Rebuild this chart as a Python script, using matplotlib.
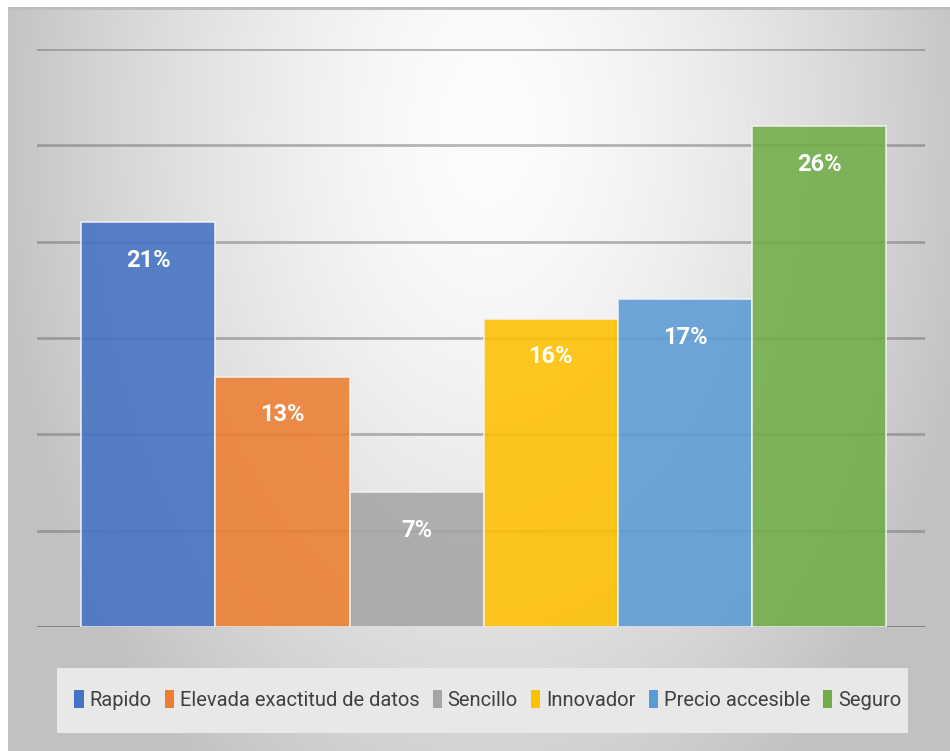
import numpy as np
import matplotlib
matplotlib.use("Agg")
import matplotlib.pyplot as plt
from matplotlib.patches import Patch, Rectangle

# survey answers: share of responses per attribute
labels = ["Rapido", "Elevada exactitud de datos", "Sencillo", "Innovador",
          "Precio accesible", "Seguro"]
values = [21, 13, 7, 16, 17, 26]
colors = ["#4472C4", "#ED7D31", "#A5A5A5", "#FFC000", "#5B9BD5", "#70AD47"]
yticks = [0, 5, 10, 15, 20, 25, 30]

FONT = ["Roboto", "DejaVu Sans"]
plt.rcParams["font.family"] = FONT

W, H = 950, 751
fig = plt.figure(figsize=(W / 100, H / 100), dpi=100, facecolor="white")

# grey backdrop, light down the middle and darker toward the edges
bw, bh = 942, 744
yy, xx = np.mgrid[0:bh, 0:bw]
d = np.sqrt(((xx - 480) / 500.0) ** 2 + ((yy - 120) / 800.0) ** 2)
shade = 253 - 60 * np.clip(d, 0, 1.0) ** 1.5
shade[:3, :] = 190
bg = np.dstack([shade, shade, shade]) / 255.0
fig.figimage(bg, xo=W - bw, yo=0, origin="upper", zorder=-10)

ax = fig.add_axes([37 / W, (H - 627) / H, 888 / W, 578 / H])
ax.set_facecolor("none")
for s in ax.spines.values():
    s.set_visible(False)

for y in yticks[1:]:
    ax.axhline(y, color="#707070", alpha=0.5, lw=2, zorder=1)
ax.axhline(0, color="#7a7a7a", lw=2, zorder=1)

x = np.arange(len(values))
bars = ax.bar(x, values, width=1.0, color=colors, alpha=0.88,
              edgecolor="#f4f4f4", linewidth=1.2, zorder=2)

for b, v in zip(bars, values):
    ax.annotate(f"{v}%", (b.get_x() + b.get_width() / 2, v),
                xytext=(0, -38), textcoords="offset pixels",
                ha="center", va="center", color="white",
                fontsize=17, fontweight="bold", zorder=3)

ax.set_xlim(-0.83, 5.79)
ax.set_ylim(0, 30)
ax.set_xticks([])
ax.set_yticks([])

# legend strip behind the entries
fig.patches.append(Rectangle((57 / W, (H - 733) / H), 851 / W, 65 / H,
                             transform=fig.transFigure, facecolor="#e8e8e8",
                             edgecolor="none", zorder=0))

handles = [Patch(facecolor=c, edgecolor="none") for c in colors]
leg = fig.legend(handles, labels, loc="center", ncol=6,
                 bbox_to_anchor=(488 / W, (H - 700) / H),
                 fontsize=14.5, frameon=False,
                 handlelength=0.45, handleheight=0.95, handletextpad=0.3,
                 columnspacing=0.65)
for t in leg.get_texts():
    t.set_color("#404040")

fig.savefig("out.png", dpi=100, facecolor=fig.get_facecolor())
